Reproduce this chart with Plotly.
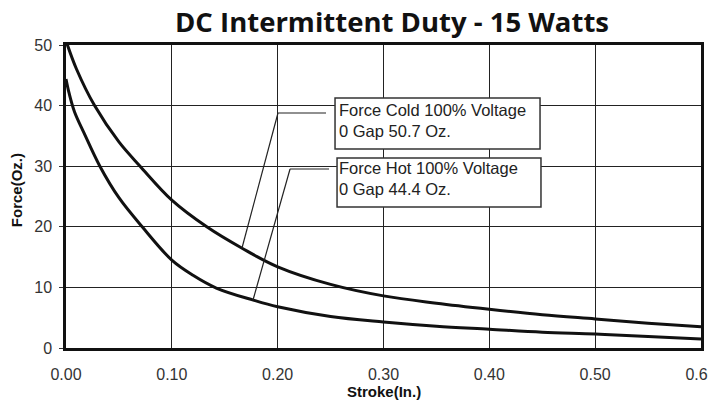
import plotly.graph_objects as go

# Force vs stroke
stroke_cold = [0.0, 0.01, 0.027, 0.05, 0.07, 0.10, 0.133, 0.166, 0.20, 0.25,
               0.30, 0.35, 0.40, 0.45, 0.50, 0.55, 0.60]
force_cold = [50.7, 46.0, 40.0, 34.0, 30.0, 24.4, 20.0, 16.5, 13.4, 10.5,
              8.6, 7.4, 6.4, 5.5, 4.8, 4.1, 3.5]

stroke_hot = [0.0, 0.003, 0.008, 0.017, 0.032, 0.05, 0.072, 0.10, 0.12, 0.142, 0.177,
              0.20, 0.25, 0.30, 0.35, 0.40, 0.45, 0.50, 0.55, 0.60]
force_hot = [44.4, 42.0, 39.0, 35.5, 30.0, 24.8, 20.0, 14.5, 12.0, 9.9, 7.9,
             6.8, 5.2, 4.3, 3.6, 3.1, 2.6, 2.3, 1.9, 1.5]

x_ticks = [0.0, 0.1, 0.2, 0.3, 0.4, 0.5, 0.6]
x_tick_labels = ["0.00", "0.10", "0.20", "0.30", "0.40", "0.50", "0.60"]
y_ticks = [0, 10, 20, 30, 40, 50]

cold_label = "Force Cold 100% Voltage<br>0 Gap 50.7 Oz."
hot_label = "Force Hot 100% Voltage<br>0 Gap 44.4 Oz."

fig = go.Figure()
fig.add_trace(go.Scatter(x=stroke_cold, y=force_cold, mode="lines", name="Cold",
                         line=dict(color="#111", width=3, shape="spline", smoothing=1.0)))
fig.add_trace(go.Scatter(x=stroke_hot, y=force_hot, mode="lines", name="Hot",
                         line=dict(color="#111", width=3, shape="spline", smoothing=1.0)))

# callout boxes (white, they hide the grid)
for x0, x1, y0, y1 in [(0.2542, 0.4479, 32.84, 41.25), (0.2561, 0.4488, 23.27, 31.35)]:
    fig.add_shape(type="rect", x0=x0, x1=x1, y0=y0, y1=y1, xref="x", yref="y",
                  fillcolor="white", line=dict(color="#333", width=1.5), layer="above")

# leader lines
leaders = [
    [(0.2457, 38.78), (0.2003, 38.78), (0.1663, 16.5)],
    [(0.2485, 29.54), (0.2117, 29.54), (0.1767, 7.92)],
]
for pts in leaders:
    for (xa, ya), (xb, yb) in zip(pts[:-1], pts[1:]):
        fig.add_shape(type="line", x0=xa, y0=ya, x1=xb, y1=yb, xref="x", yref="y",
                      line=dict(color="#222", width=1.2), layer="above")

for txt, ymid in [(cold_label, 37.54), (hot_label, 27.97)]:
    fig.add_annotation(x=0.2565, y=ymid, xref="x", yref="y", text=txt, showarrow=False,
                       xanchor="left", yanchor="middle", align="left",
                       font=dict(family="Liberation Sans, Arial", size=16.5, color="#222"))

fig.add_annotation(x=0.513, y=1.076, xref="paper", yref="paper",
                   text="<b>DC Intermittent Duty - 15 Watts</b>", showarrow=False,
                   xanchor="center", yanchor="middle",
                   font=dict(family="Open Sans", size=27.5, color="#111"))
fig.add_annotation(x=0.5, y=-0.142, xref="paper", yref="paper",
                   text="<b>Stroke(In.)</b>", showarrow=False,
                   xanchor="center", yanchor="middle",
                   font=dict(family="Liberation Sans, Arial", size=15, color="#111"))
fig.add_annotation(x=-0.0787, y=0.521, xref="paper", yref="paper",
                   text="<b>Force(Oz.)</b>", showarrow=False, textangle=-90,
                   xanchor="center", yanchor="middle",
                   font=dict(family="Liberation Sans, Arial", size=15, color="#111"))

axis_common = dict(showgrid=True, gridcolor="#222", gridwidth=1.3, zeroline=False,
                   showline=True, linecolor="#111", linewidth=2.5, mirror=True,
                   automargin=False, ticklabeloverflow="allow",
                   tickfont=dict(family="Liberation Sans, Arial", size=16, color="#333"))

fig.update_xaxes(range=[0, 0.6], tickvals=x_ticks, ticktext=x_tick_labels,
                 ticks="", ticklabelstandoff=10, **axis_common)
fig.update_yaxes(range=[0, 50], tickvals=y_ticks, ticks="outside", ticklen=4,
                 tickcolor="#333", ticklabelstandoff=4, **axis_common)

# the page body adds an 8px offset, so the figure is 8px smaller and shifted up/left
fig.update_layout(
    width=708, height=394,
    margin=dict(l=58, r=15, t=37, b=54),
    plot_bgcolor="white", paper_bgcolor="white",
    showlegend=False,
)

fig.write_html("out.html")
